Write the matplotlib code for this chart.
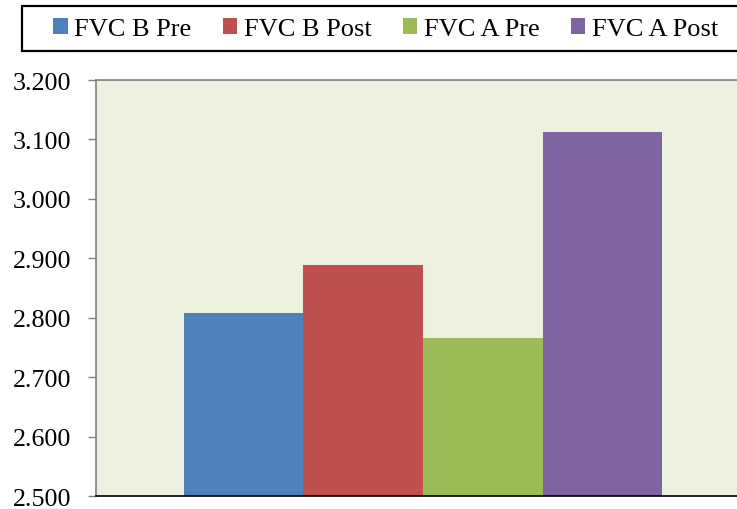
import matplotlib
matplotlib.use("Agg")
import matplotlib.pyplot as plt
from matplotlib.patches import Rectangle, Patch
from matplotlib.ticker import FixedLocator, FuncFormatter

series = ["FVC B Pre", "FVC B Post", "FVC A Pre", "FVC A Post"]
values = [2.808, 2.889, 2.766, 3.112]
colors = ["#4F81BD", "#C0504D", "#9BBB59", "#8064A2"]
yticks = [2.5, 2.6, 2.7, 2.8, 2.9, 3.0, 3.1, 3.2]

plt.rcParams['font.family'] = ['Liberation Serif', 'DejaVu Serif']

W, H = 737, 510
fig = plt.figure(figsize=(W / 100, H / 100), dpi=100)
ax = fig.add_axes([96 / W, (H - 497) / H, (750 - 96) / W, (497 - 81) / H])
ax.set_facecolor("#EBF1DE")

for i, (v, c) in enumerate(zip(values, colors)):
    ax.bar(i, v - 2.5, bottom=2.5, width=1.0, color=c, linewidth=0, zorder=2)

ax.set_xlim(-1.236, 4.236)
ax.set_ylim(2.5, 3.2)
ax.yaxis.set_major_locator(FixedLocator(yticks))
ax.yaxis.set_major_formatter(FuncFormatter(lambda v, p: f"{v:.3f}"))
ax.set_xticks([])
ax.tick_params(axis='y', direction='out', length=6, width=1, color='#808080',
               labelsize=18.7, pad=12, labelcolor='black')
for s in ['left', 'top']:
    ax.spines[s].set_color('#808080')
    ax.spines[s].set_linewidth(1.2)
ax.spines['right'].set_visible(False)
ax.spines['bottom'].set_color('black')
ax.spines['bottom'].set_linewidth(1.2)

# legend box
fig.patches.append(Rectangle((22 / W, (H - 52) / H), (749 - 22) / W, 45 / H,
                             transform=fig.transFigure, facecolor='white',
                             edgecolor='black', linewidth=1.6))
handles = [Patch(facecolor=c, edgecolor='none', label=s) for s, c in zip(series, colors)]
fig.legend(handles=handles, loc='center', bbox_to_anchor=(385.5 / W, (H - 30) / H),
           ncol=4, frameon=False, fontsize=19, handlelength=0.55, handleheight=0.55,
           handletextpad=0.25, columnspacing=1.18, borderpad=0)

fig.savefig("out.png", dpi=100)
